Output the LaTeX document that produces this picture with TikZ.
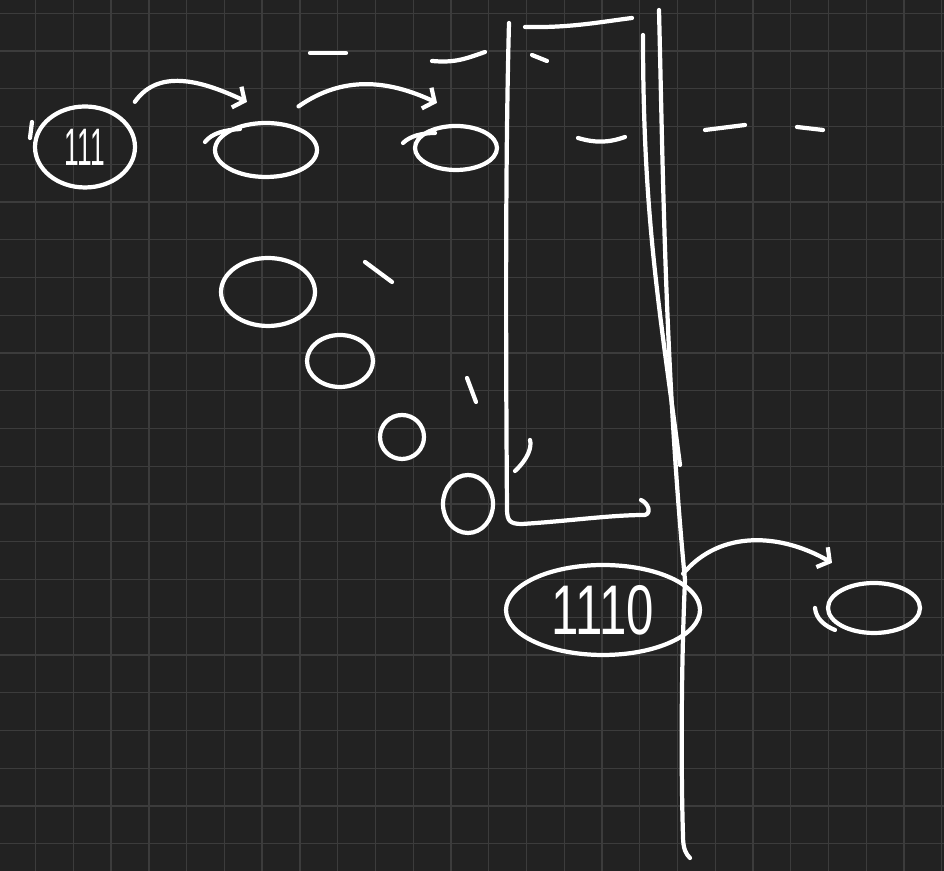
\documentclass[tikz,border=0pt]{standalone}
\usepackage{fontspec}
\setmainfont{Liberation Sans}
\usetikzlibrary{shapes.geometric,arrows.meta}
\definecolor{board}{HTML}{222222}
\definecolor{gridgray}{HTML}{3C3C3C}

\begin{document}
\begin{tikzpicture}[x=0.02cm, y=0.02cm,
    chalk/.style={white, line width=2.4pt, line cap=round, line join=round},
    digit/.style={chalk, draw, ellipse, inner sep=0pt},
    hop/.style={chalk, -{Straight Barb[length=5pt,width=13pt]}}]
    % Board
    \useasboundingbox (0,0) rectangle (944,871);
    \fill[board] (0,0) rectangle (944,871);
    \foreach \i in {0,...,24} \draw[gridgray, line width=0.8pt] (35.7+37.75*\i,0) -- ++(0,871);
    \foreach \j in {0,...,22} \draw[gridgray, line width=0.8pt] (0,857.7-37.75*\j) -- ++(944,0);

    % Top row
    \node[digit, minimum width=2cm, minimum height=1.62cm, font=\fontsize{30}{30}\selectfont] (n111) at (85,724) {\scalebox{0.5}[1]{111}};
    \node[digit, minimum width=2.04cm, minimum height=1.08cm] (z1) at (266,721) {};
    \node[digit, minimum width=1.64cm, minimum height=0.88cm] (z2) at (456,723) {};
    \draw[chalk] (32,749) -- (30,733);
    \draw[chalk] (205,729) .. controls (212,738) and (225,741) .. (240,742);
    \draw[chalk] (403,728) .. controls (410,735) and (422,738) .. (435,738);

    % Hops
    \draw[hop] ([shift={(13,15)}]n111.north east) to[out=55,in=155] ([shift={(-19,19)}]z1.north);
    \draw[hop] ([shift={(-5,23)}]z1.north east) to[out=35,in=155] ([shift={(-19,21)}]z2.north);

    % Blanks
    \draw[chalk] (310,818) -- (346,818);
    \draw[chalk] (432,810) .. controls (455,808) and (465,812) .. (485,819);
    \draw[chalk] (532,816) -- (547,810);
    \draw[chalk] (578,733) .. controls (595,728) and (608,728) .. (625,734);
    \draw[chalk] (705,741) -- (745,746);
    \draw[chalk] (797,744) -- (823,741);

    % Diagonal zeros
    \node[digit, minimum width=1.88cm, minimum height=1.36cm] (d1) at (268,579) {};
    \node[digit, minimum width=1.32cm, minimum height=1.04cm] (d2) at (340,510) {};
    \node[digit, minimum width=0.88cm, minimum height=0.88cm] (d3) at (402,434) {};
    \node[digit, minimum width=1cm, minimum height=1.16cm] (d4) at (468,367) {};
    \draw[chalk] (365,609) -- (392,589);
    \draw[chalk] (467,493) -- (476,469);
    \draw[chalk] (530,431) .. controls (532,424) and (528,412) .. (515,400);

    % Box
    \draw[chalk] (525,844) .. controls (570,843) and (600,849) .. (632,853);
    \draw[chalk] (509,848) .. controls (505,700) and (506,500) .. (507,362)
        .. controls (507,350) and (510,347) .. (522,347)
        .. controls (570,350) and (610,356) .. (645,356)
        .. controls (652,358) and (648,368) .. (641,371);

    % Walls
    \draw[chalk] (643,836) .. controls (643,650) and (660,560) .. (680,406);
    \draw[chalk] (659,861) .. controls (663,700) and (665,500) .. (685,291)
        .. controls (681,200) and (681,100) .. (683,35)
        .. controls (683,22) and (686,17) .. (690,13);

    % Bottom row
    \node[digit, minimum width=3.88cm, minimum height=1.8cm, font=\fontsize{40}{40}\selectfont] (n1110) at (603,261) {\scalebox{0.7}[1]{1110}};
    \node[digit, minimum width=1.84cm, minimum height=1cm] (z3) at (874,263) {};
    \draw[chalk] (815,263) .. controls (816,252) and (825,245) .. (835,241);
    \draw[hop] ([shift={(10,3)}]n1110.north east) to[out=50,in=150] ([shift={(-42,18)}]z3.north);
\end{tikzpicture}
\end{document}
